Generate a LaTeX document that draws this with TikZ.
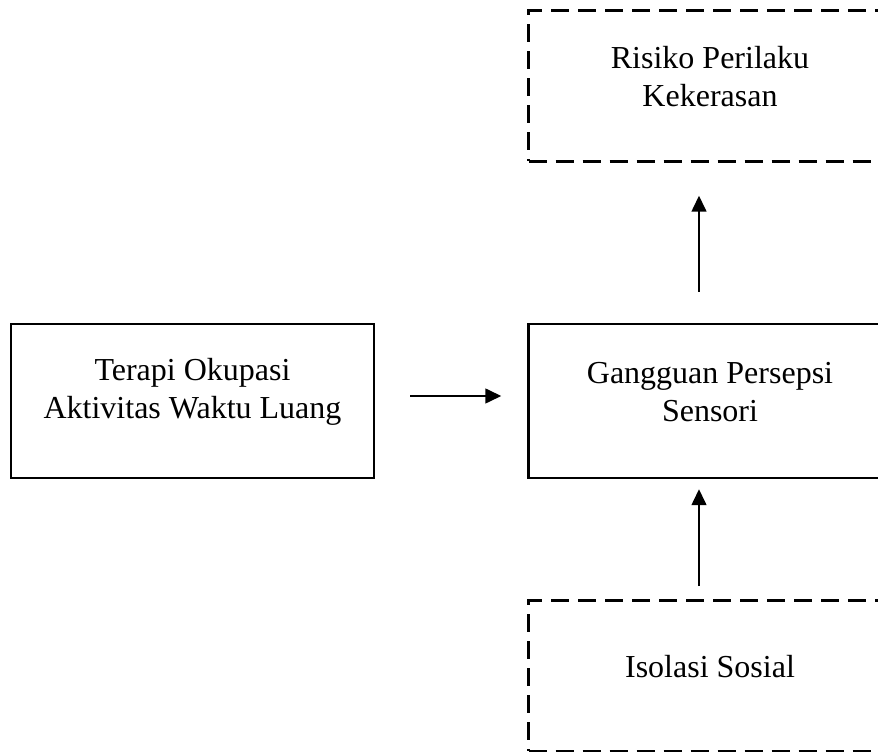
\documentclass[tikz,border=0pt]{standalone}
\usepackage{fontspec}
\setmainfont{Liberation Serif}
\usetikzlibrary{positioning}
\usetikzlibrary{arrows.meta}
\tikzset {
  x=1pt, y=1pt,
  % the text inside every box
  boxtext/.style = {align=center, font=\fontsize{32}{38}\selectfont, yshift=9pt},
  % solid boxes
  solidbox/.style = {draw, line width=2.5pt, minimum width=363pt, minimum height=154pt},
  % dashed boxes
  dashbox/.style = {draw, line width=2.5pt, dash pattern=on 18pt off 9pt, minimum width=363pt, minimum height=151pt},
  % arrows between the boxes
  link/.style = {-{Triangle[length=16pt, width=15pt]}, line width=1.6pt},
}

\begin{document}
\begin{tikzpicture}

        \useasboundingbox (0,0) rectangle (878,752);
        \clip (0,0) rectangle (878,752);

        \node[solidbox, label={[boxtext]center:Terapi Okupasi\\Aktivitas Waktu Luang}] (terapi) at (192.5,351) {};
        \node[solidbox, label={[boxtext]center:Gangguan Persepsi\\Sensori}] (gangguan) [right=152pt of terapi] {};
        \node[dashbox, label={[boxtext]center:Risiko Perilaku\\Kekerasan}] (risiko) [above=160pt of gangguan] {};
        \node[dashbox, label={[boxtext]center:Isolasi Sosial}] (isolasi) [below=120pt of gangguan] {};

        \draw [link, shorten <=35pt, shorten >=26pt] ([yshift=5pt]terapi.east) -- ([yshift=5pt]gangguan.west);
        \draw [link, shorten <=31pt, shorten >=33pt] ([xshift=-11pt]gangguan.north) -- ([xshift=-11pt]risiko.south);
        \draw [link, shorten <=13pt, shorten >=10pt] ([xshift=-11pt]isolasi.north) -- ([xshift=-11pt]gangguan.south);
      \end{tikzpicture}
\end{document}
